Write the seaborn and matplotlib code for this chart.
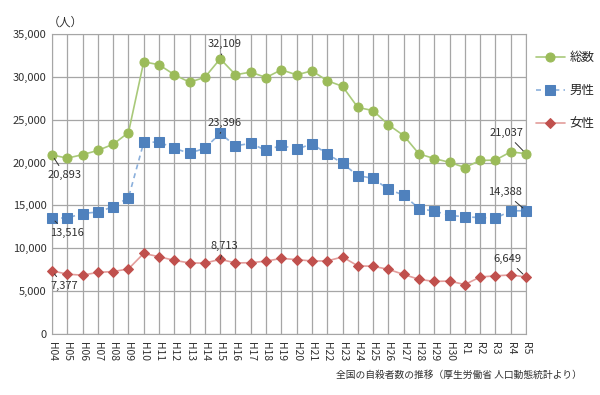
import pandas as pd
import seaborn as sns
import matplotlib.pyplot as plt

# 全国の自殺者数（人口動態統計）
years = ['H04', 'H05', 'H06', 'H07', 'H08', 'H09', 'H10', 'H11', 'H12', 'H13',
         'H14', 'H15', 'H16', 'H17', 'H18', 'H19', 'H20', 'H21', 'H22', 'H23',
         'H24', 'H25', 'H26', 'H27', 'H28', 'H29', 'H30', 'R1', 'R2', 'R3', 'R4', 'R5']
total = [20893, 20516, 20923, 21420, 22138, 23494, 31755, 31413, 30251, 29375,
         29949, 32109, 30247, 30553, 29921, 30827, 30229, 30707, 29554, 28896,
         26433, 26063, 24417, 23152, 21017, 20465, 20031, 19425, 20243, 20291, 21252, 21037]
male = [13516, 13540, 14058, 14231, 14853, 15901, 22349, 22402, 21656, 21085,
        21677, 23396, 21955, 22236, 21419, 22007, 21546, 22189, 21028, 19904,
        18485, 18158, 16875, 16202, 14639, 14332, 13854, 13661, 13588, 13508, 14362, 14388]
female = [7377, 6976, 6865, 7189, 7285, 7593, 9406, 9011, 8595, 8290,
          8272, 8713, 8292, 8317, 8502, 8820, 8683, 8518, 8526, 8992,
          7948, 7905, 7542, 6950, 6378, 6133, 6177, 5764, 6655, 6783, 6890, 6649]

series_names = ['総数', '男性', '女性']
labelled = ['H04', 'H15', 'R5']

sns.set_style("white")
plt.rcParams['font.family'] = ['Noto Sans CJK JP', 'DejaVu Sans']

df = pd.DataFrame({'year': years, 'pos': range(len(years)),
                   '総数': total, '男性': male, '女性': female})

fig = plt.figure(figsize=(6, 3.95), dpi=100)
ax = fig.add_axes([52 / 600, 61 / 395, 474 / 600, 300 / 395])

styles = {
    '総数': dict(line='#a9c97a', mk='#9bbb59', marker='o', ms=6.5, ls='-'),
    '男性': dict(line='#8bb0dc', mk='#4f81bd', marker='s', ms=6.5, ls=(0, (3, 2.5))),
    '女性': dict(line='#e39d9b', mk='#c0504d', marker='D', ms=5, ls='-'),
}
for name in series_names:
    st = styles[name]
    sns.lineplot(data=df, x='pos', y=name, ax=ax, color=st['line'], linestyle=st['ls'],
                 linewidth=1.2, marker=st['marker'], markersize=st['ms'],
                 markerfacecolor=st['mk'], markeredgecolor=st['mk'], label=name,
                 clip_on=False, zorder=3)

# data labels with leader lines
label_offsets = {
    ('総数', 'H04'): (0.85, 18550), ('男性', 'H04'): (0.98, 11820), ('女性', 'H04'): (0.78, 5600),
    ('総数', 'H15'): (11.3, 33800), ('男性', 'H15'): (11.3, 24650), ('女性', 'H15'): (11.3, 10270),
    ('総数', 'R5'): (29.7, 23410), ('男性', 'R5'): (29.6, 16530), ('女性', 'R5'): (29.8, 8720),
}
for name, vals in zip(series_names, [total, male, female]):
    for yr in labelled:
        i = years.index(yr)
        tx, ty = label_offsets[(name, yr)]
        ax.annotate(f'{vals[i]:,}', xy=(i, vals[i]), xytext=(tx, ty),
                    ha='center', va='center', fontsize=8, color='#303030',
                    arrowprops=dict(arrowstyle='-', color='#303030', lw=0.7,
                                    shrinkA=1, shrinkB=3))

ax.set_xlim(0, len(years) - 1)
ax.set_ylim(0, 35000)
ax.set_xticks(range(len(years)))
ax.set_xticklabels(years, rotation=-90, fontsize=7.5, color='#303030')
ax.set_yticks(range(0, 35001, 5000))
ax.set_yticklabels([f'{v:,}' for v in range(0, 35001, 5000)], fontsize=8, color='#303030')
ax.grid(True, color='#a6a6a6', linewidth=0.9)
ax.set_axisbelow(True)
ax.tick_params(axis='x', length=4, color='#a6a6a6', pad=2)
ax.tick_params(axis='y', length=0, pad=4)
for sp in ax.spines.values():
    sp.set_color('#a6a6a6')
ax.set_xlabel('')
ax.set_ylabel('')

ax.legend(loc='upper left', bbox_to_anchor=(531 / 600, 1 - 46 / 395), bbox_transform=fig.transFigure,
          frameon=False, fontsize=9, handlelength=2.3, labelspacing=1.6, handletextpad=0.4,
          borderaxespad=0)

fig.text(48 / 600, 1 - 22 / 395, '（人）', fontsize=8.5, color='#303030', va='center', ha='left')
fig.text(582 / 600, 1 - 375 / 395, '全国の自殺者数の推移（厚生労働省 人口動態統計より）',
         fontsize=7, color='#303030', va='center', ha='right')

fig.savefig('out.png', dpi=100)
